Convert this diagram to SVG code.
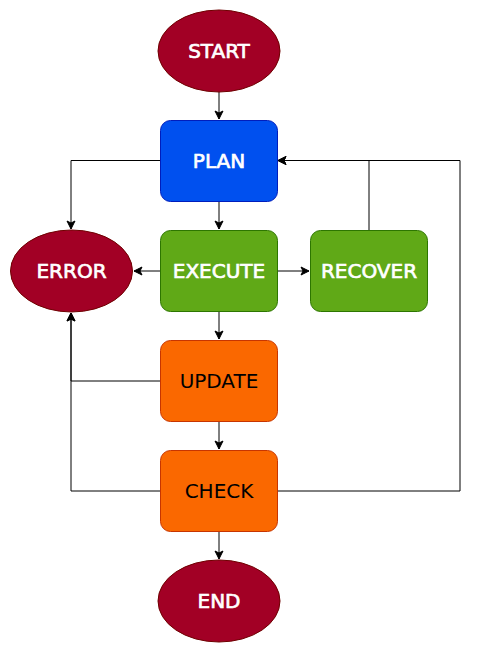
<svg xmlns="http://www.w3.org/2000/svg" width="479" height="653" viewBox="0 0 479 653">
<style>
.t{font-family:"DejaVu Sans",Verdana,sans-serif;font-size:20px;text-anchor:middle}
.w{fill:#ffffff;stroke:#ffffff;stroke-width:0.7px}
.k{fill:#000000}
.red{fill:#a20025;stroke:#6f0000}
.blue{fill:#0050ef;stroke:#001dbc}
.green{fill:#60a917;stroke:#2d7600}
.orange{fill:#fa6800;stroke:#c73500}
.c{fill:none;stroke:#000000;stroke-width:1;marker-end:url(#a)}
.n{fill:none;stroke:#000000;stroke-width:1}
</style>
<defs>
<marker id="a" viewBox="0 0 10 10" refX="9" refY="5" markerWidth="10" markerHeight="10" markerUnits="userSpaceOnUse" orient="auto">
<path d="M1,1 L9,5 L1,9 L3,5 Z" fill="#000000" stroke="#000000" stroke-width="1"/>
</marker>
</defs>
<g id="connectors">
<path class="c" d="M219,92 L219,119"/>
<path class="c" d="M219,201 L219,229"/>
<path class="c" d="M160,160.5 L71,160.5 L71,229"/>
<path class="c" d="M160,271 L134,271"/>
<path class="c" d="M277,271 L309,271"/>
<path class="c" d="M369,230 L369,160.5 L278,160.5"/>
<path class="c" d="M219,311 L219,339"/>
<path class="c" d="M160,381 L71,381 L71,313"/>
<path class="c" d="M219,421 L219,449"/>
<path class="c" d="M160,491 L71,491 L71,313"/>
<path class="c" d="M277,491 L460,491 L460,160.5 L278,160.5"/>
<path class="c" d="M219,531 L219,559"/>
</g>
<g id="start"><ellipse class="red" cx="219" cy="51" rx="61" ry="41"/><text class="t w" x="219" y="58">START</text></g>
<g id="plan"><rect class="blue" x="160.5" y="120.5" width="117" height="81" rx="10"/><text class="t w" x="219" y="168">PLAN</text></g>
<g id="error"><ellipse class="red" cx="71.5" cy="271" rx="61" ry="41"/><text class="t w" x="71.5" y="278">ERROR</text></g>
<g id="execute"><rect class="green" x="160.5" y="230.5" width="117" height="81" rx="10"/><text class="t w" x="219" y="278">EXECUTE</text></g>
<g id="recover"><rect class="green" x="310.5" y="230.5" width="117" height="81" rx="10"/><text class="t w" x="369" y="278">RECOVER</text></g>
<g id="update"><rect class="orange" x="160.5" y="340.5" width="117" height="81" rx="10"/><text class="t k" x="219" y="388">UPDATE</text></g>
<g id="check"><rect class="orange" x="160.5" y="450.5" width="117" height="81" rx="10"/><text class="t k" x="219" y="498">CHECK</text></g>
<g id="end"><ellipse class="red" cx="219" cy="601" rx="61" ry="41"/><text class="t w" x="219" y="608">END</text></g>
</svg>
